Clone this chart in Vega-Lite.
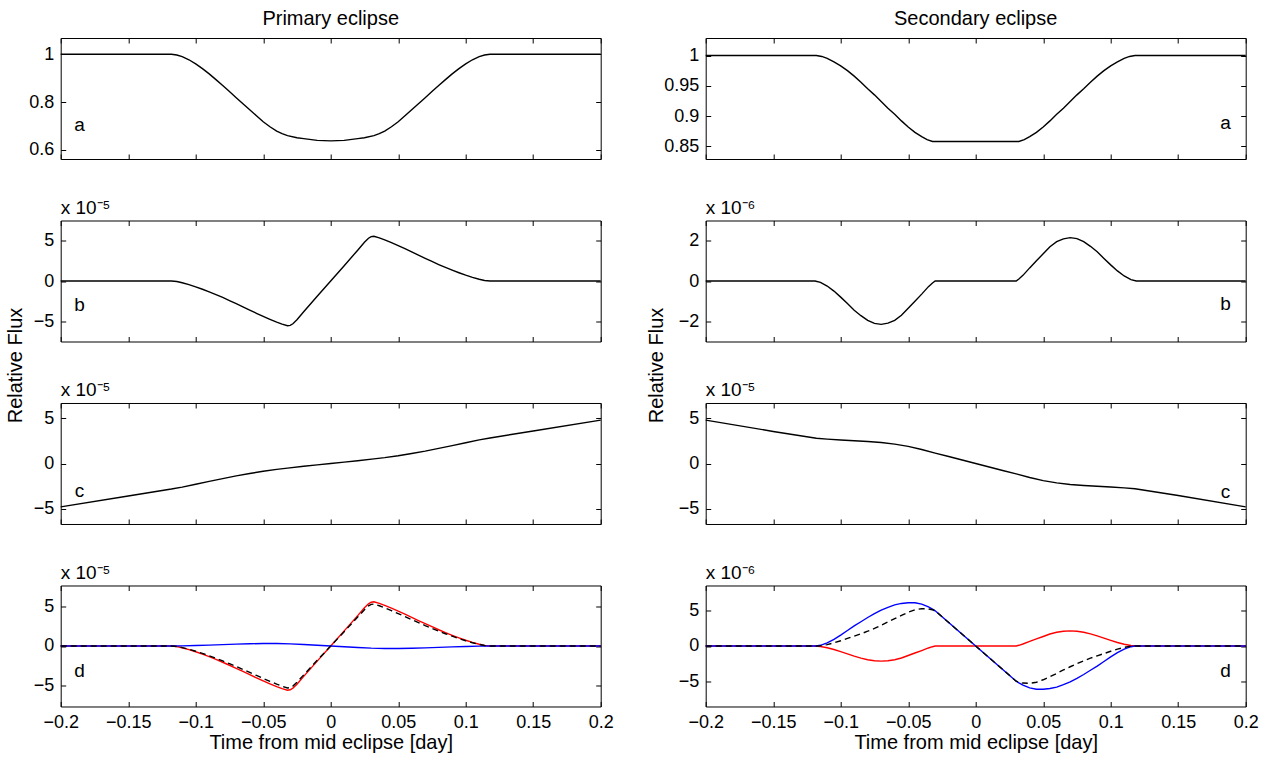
{
"$schema": "https://vega.github.io/schema/vega-lite/v6.json",
"background": "white",
"padding": {"left": 5.7, "top": 8, "right": 0, "bottom": 0},
"config": {
  "font": "Liberation Sans",
  "view": {"stroke": "black", "strokeWidth": 1},
  "axis": {"domain": false, "grid": false, "tickColor": "black", "tickSize": -5, "tickWidth": 1, "labelColor": "black", "labelFont": "Liberation Sans", "labelFontSize": 18, "labelPadding": 12, "labelFlush": false, "labelOverlap": false, "titleFont": "Liberation Sans", "titleFontSize": 20, "titleFontWeight": "normal", "titleColor": "black"},
  "title": {"font": "Liberation Sans", "fontWeight": "normal", "color": "black"},
  "text": {"font": "Liberation Sans", "color": "black", "fontSize": 19}
},
"datasets": {
  "La": [{"t":-0.2,"v":1},{"t":-0.15,"v":1},{"t":-0.118,"v":1},{"t":-0.114,"v":0.997},{"t":-0.11,"v":0.99},{"t":-0.105,"v":0.977},{"t":-0.1,"v":0.96},{"t":-0.095,"v":0.94},{"t":-0.09,"v":0.918},{"t":-0.085,"v":0.894},{"t":-0.08,"v":0.869},{"t":-0.075,"v":0.844},{"t":-0.07,"v":0.818},{"t":-0.065,"v":0.793},{"t":-0.06,"v":0.768},{"t":-0.055,"v":0.743},{"t":-0.05,"v":0.718},{"t":-0.045,"v":0.697},{"t":-0.04,"v":0.679},{"t":-0.036,"v":0.668},{"t":-0.032,"v":0.66},{"t":-0.025,"v":0.651},{"t":-0.02,"v":0.647},{"t":-0.01,"v":0.64},{"t":0,"v":0.638},{"t":0.01,"v":0.64},{"t":0.02,"v":0.647},{"t":0.025,"v":0.651},{"t":0.032,"v":0.66},{"t":0.036,"v":0.668},{"t":0.04,"v":0.679},{"t":0.045,"v":0.697},{"t":0.05,"v":0.718},{"t":0.055,"v":0.743},{"t":0.06,"v":0.768},{"t":0.065,"v":0.793},{"t":0.07,"v":0.818},{"t":0.075,"v":0.844},{"t":0.08,"v":0.869},{"t":0.085,"v":0.894},{"t":0.09,"v":0.918},{"t":0.095,"v":0.94},{"t":0.1,"v":0.96},{"t":0.105,"v":0.977},{"t":0.11,"v":0.99},{"t":0.114,"v":0.997},{"t":0.118,"v":1},{"t":0.15,"v":1},{"t":0.2,"v":1}],
  "Ra": [{"t":-0.2,"v":1},{"t":-0.15,"v":1},{"t":-0.118,"v":1},{"t":-0.114,"v":0.9985},{"t":-0.11,"v":0.9955},{"t":-0.105,"v":0.9895},{"t":-0.1,"v":0.983},{"t":-0.095,"v":0.975},{"t":-0.09,"v":0.966},{"t":-0.085,"v":0.956},{"t":-0.08,"v":0.945},{"t":-0.075,"v":0.935},{"t":-0.07,"v":0.924},{"t":-0.065,"v":0.913},{"t":-0.06,"v":0.903},{"t":-0.055,"v":0.892},{"t":-0.05,"v":0.882},{"t":-0.045,"v":0.873},{"t":-0.04,"v":0.866},{"t":-0.036,"v":0.861},{"t":-0.032,"v":0.858},{"t":0,"v":0.858},{"t":0.032,"v":0.858},{"t":0.036,"v":0.861},{"t":0.04,"v":0.866},{"t":0.045,"v":0.873},{"t":0.05,"v":0.882},{"t":0.055,"v":0.892},{"t":0.06,"v":0.903},{"t":0.065,"v":0.913},{"t":0.07,"v":0.924},{"t":0.075,"v":0.935},{"t":0.08,"v":0.945},{"t":0.085,"v":0.956},{"t":0.09,"v":0.966},{"t":0.095,"v":0.975},{"t":0.1,"v":0.983},{"t":0.105,"v":0.9895},{"t":0.11,"v":0.9955},{"t":0.114,"v":0.9985},{"t":0.118,"v":1},{"t":0.15,"v":1},{"t":0.2,"v":1}],
  "Lb": [{"t":-0.2,"v":0},{"t":-0.15,"v":0},{"t":-0.118,"v":0},{"t":-0.114,"v":-0.07},{"t":-0.11,"v":-0.22},{"t":-0.105,"v":-0.45},{"t":-0.1,"v":-0.72},{"t":-0.095,"v":-1.02},{"t":-0.09,"v":-1.34},{"t":-0.085,"v":-1.68},{"t":-0.08,"v":-2.04},{"t":-0.075,"v":-2.42},{"t":-0.07,"v":-2.8},{"t":-0.065,"v":-3.2},{"t":-0.06,"v":-3.6},{"t":-0.055,"v":-4.0},{"t":-0.05,"v":-4.38},{"t":-0.045,"v":-4.75},{"t":-0.04,"v":-5.1},{"t":-0.036,"v":-5.35},{"t":-0.032,"v":-5.55},{"t":-0.03,"v":-5.5},{"t":-0.028,"v":-5.3},{"t":-0.025,"v":-4.8},{"t":-0.02,"v":-3.82},{"t":-0.01,"v":-1.9},{"t":0,"v":0},{"t":0.01,"v":1.9},{"t":0.02,"v":3.82},{"t":0.025,"v":4.8},{"t":0.028,"v":5.3},{"t":0.03,"v":5.5},{"t":0.032,"v":5.55},{"t":0.036,"v":5.35},{"t":0.04,"v":5.1},{"t":0.045,"v":4.75},{"t":0.05,"v":4.38},{"t":0.055,"v":4.0},{"t":0.06,"v":3.6},{"t":0.065,"v":3.2},{"t":0.07,"v":2.8},{"t":0.075,"v":2.42},{"t":0.08,"v":2.04},{"t":0.085,"v":1.68},{"t":0.09,"v":1.34},{"t":0.095,"v":1.02},{"t":0.1,"v":0.72},{"t":0.105,"v":0.45},{"t":0.11,"v":0.22},{"t":0.114,"v":0.07},{"t":0.118,"v":0},{"t":0.15,"v":0},{"t":0.2,"v":0}],
  "Rb": [{"t":-0.2,"v":0},{"t":-0.15,"v":0},{"t":-0.119,"v":0},{"t":-0.115,"v":-0.07},{"t":-0.11,"v":-0.25},{"t":-0.105,"v":-0.5},{"t":-0.1,"v":-0.8},{"t":-0.095,"v":-1.12},{"t":-0.09,"v":-1.45},{"t":-0.085,"v":-1.72},{"t":-0.08,"v":-1.95},{"t":-0.075,"v":-2.1},{"t":-0.07,"v":-2.15},{"t":-0.065,"v":-2.09},{"t":-0.06,"v":-1.95},{"t":-0.055,"v":-1.7},{"t":-0.05,"v":-1.35},{"t":-0.045,"v":-1.0},{"t":-0.04,"v":-0.65},{"t":-0.035,"v":-0.28},{"t":-0.032,"v":-0.1},{"t":-0.03,"v":0},{"t":0.03,"v":0},{"t":0.032,"v":0.1},{"t":0.035,"v":0.28},{"t":0.04,"v":0.65},{"t":0.045,"v":1.0},{"t":0.05,"v":1.35},{"t":0.055,"v":1.7},{"t":0.06,"v":1.95},{"t":0.065,"v":2.09},{"t":0.07,"v":2.15},{"t":0.075,"v":2.1},{"t":0.08,"v":1.95},{"t":0.085,"v":1.72},{"t":0.09,"v":1.45},{"t":0.095,"v":1.12},{"t":0.1,"v":0.8},{"t":0.105,"v":0.5},{"t":0.11,"v":0.25},{"t":0.115,"v":0.07},{"t":0.119,"v":0},{"t":0.15,"v":0},{"t":0.2,"v":0}],
  "Lc": [{"t":-0.2,"v":-4.8},{"t":-0.15,"v":-3.6},{"t":-0.118,"v":-2.83},{"t":-0.11,"v":-2.61},{"t":-0.1,"v":-2.3},{"t":-0.09,"v":-1.98},{"t":-0.08,"v":-1.67},{"t":-0.07,"v":-1.37},{"t":-0.06,"v":-1.11},{"t":-0.05,"v":-0.86},{"t":-0.04,"v":-0.65},{"t":-0.032,"v":-0.51},{"t":-0.02,"v":-0.31},{"t":-0.01,"v":-0.15},{"t":0,"v":0},{"t":0.01,"v":0.15},{"t":0.02,"v":0.31},{"t":0.032,"v":0.51},{"t":0.04,"v":0.65},{"t":0.05,"v":0.86},{"t":0.06,"v":1.11},{"t":0.07,"v":1.37},{"t":0.08,"v":1.67},{"t":0.09,"v":1.98},{"t":0.1,"v":2.3},{"t":0.11,"v":2.61},{"t":0.118,"v":2.83},{"t":0.15,"v":3.6},{"t":0.2,"v":4.8}],
  "Rc": [{"t":-0.2,"v":4.8},{"t":-0.15,"v":3.55},{"t":-0.118,"v":2.8},{"t":-0.11,"v":2.7},{"t":-0.1,"v":2.6},{"t":-0.09,"v":2.52},{"t":-0.08,"v":2.43},{"t":-0.07,"v":2.32},{"t":-0.06,"v":2.15},{"t":-0.05,"v":1.9},{"t":-0.04,"v":1.55},{"t":-0.03,"v":1.15},{"t":-0.02,"v":0.77},{"t":-0.01,"v":0.39},{"t":0,"v":0},{"t":0.01,"v":-0.39},{"t":0.02,"v":-0.77},{"t":0.03,"v":-1.15},{"t":0.04,"v":-1.55},{"t":0.05,"v":-1.9},{"t":0.06,"v":-2.15},{"t":0.07,"v":-2.32},{"t":0.08,"v":-2.43},{"t":0.09,"v":-2.52},{"t":0.1,"v":-2.6},{"t":0.11,"v":-2.7},{"t":0.118,"v":-2.8},{"t":0.15,"v":-3.55},{"t":0.2,"v":-4.8}],
  "LdBlue": [{"t":-0.2,"v":0},{"t":-0.118,"v":0},{"t":-0.11,"v":0.02},{"t":-0.1,"v":0.06},{"t":-0.09,"v":0.11},{"t":-0.08,"v":0.17},{"t":-0.07,"v":0.23},{"t":-0.06,"v":0.28},{"t":-0.05,"v":0.31},{"t":-0.04,"v":0.31},{"t":-0.03,"v":0.27},{"t":-0.02,"v":0.19},{"t":-0.01,"v":0.1},{"t":0,"v":0},{"t":0.01,"v":-0.1},{"t":0.02,"v":-0.19},{"t":0.03,"v":-0.27},{"t":0.04,"v":-0.31},{"t":0.05,"v":-0.31},{"t":0.06,"v":-0.28},{"t":0.07,"v":-0.23},{"t":0.08,"v":-0.17},{"t":0.09,"v":-0.11},{"t":0.1,"v":-0.06},{"t":0.11,"v":-0.02},{"t":0.118,"v":0},{"t":0.2,"v":0}],
  "LdSum": [{"t":-0.2,"v":0},{"t":-0.15,"v":0},{"t":-0.118,"v":0},{"t":-0.114,"v":-0.06},{"t":-0.11,"v":-0.2},{"t":-0.105,"v":-0.41},{"t":-0.1,"v":-0.66},{"t":-0.095,"v":-0.935},{"t":-0.09,"v":-1.23},{"t":-0.085,"v":-1.54},{"t":-0.08,"v":-1.87},{"t":-0.075,"v":-2.22},{"t":-0.07,"v":-2.57},{"t":-0.065,"v":-2.945},{"t":-0.06,"v":-3.32},{"t":-0.055,"v":-3.7},{"t":-0.05,"v":-4.07},{"t":-0.045,"v":-4.435},{"t":-0.04,"v":-4.79},{"t":-0.036,"v":-5.055},{"t":-0.032,"v":-5.27},{"t":-0.03,"v":-5.23},{"t":-0.028,"v":-5.04},{"t":-0.025,"v":-4.56},{"t":-0.02,"v":-3.63},{"t":-0.01,"v":-1.8},{"t":0,"v":0},{"t":0.01,"v":1.8},{"t":0.02,"v":3.63},{"t":0.025,"v":4.56},{"t":0.028,"v":5.04},{"t":0.03,"v":5.23},{"t":0.032,"v":5.27},{"t":0.036,"v":5.055},{"t":0.04,"v":4.79},{"t":0.045,"v":4.435},{"t":0.05,"v":4.07},{"t":0.055,"v":3.7},{"t":0.06,"v":3.32},{"t":0.065,"v":2.945},{"t":0.07,"v":2.57},{"t":0.075,"v":2.22},{"t":0.08,"v":1.87},{"t":0.085,"v":1.54},{"t":0.09,"v":1.23},{"t":0.095,"v":0.935},{"t":0.1,"v":0.66},{"t":0.105,"v":0.41},{"t":0.11,"v":0.2},{"t":0.114,"v":0.06},{"t":0.118,"v":0},{"t":0.15,"v":0},{"t":0.2,"v":0}],
  "RdBlue": [{"t":-0.2,"v":0},{"t":-0.15,"v":0},{"t":-0.118,"v":0},{"t":-0.115,"v":0.1},{"t":-0.11,"v":0.45},{"t":-0.105,"v":0.95},{"t":-0.1,"v":1.55},{"t":-0.095,"v":2.2},{"t":-0.09,"v":2.85},{"t":-0.085,"v":3.45},{"t":-0.08,"v":4.05},{"t":-0.075,"v":4.6},{"t":-0.07,"v":5.1},{"t":-0.065,"v":5.5},{"t":-0.06,"v":5.85},{"t":-0.055,"v":6.05},{"t":-0.05,"v":6.15},{"t":-0.045,"v":6.15},{"t":-0.04,"v":5.95},{"t":-0.035,"v":5.55},{"t":-0.032,"v":5.25},{"t":-0.03,"v":5.0},{"t":-0.02,"v":3.33},{"t":-0.01,"v":1.67},{"t":0,"v":0},{"t":0.01,"v":-1.67},{"t":0.02,"v":-3.33},{"t":0.03,"v":-5.0},{"t":0.032,"v":-5.25},{"t":0.035,"v":-5.55},{"t":0.04,"v":-5.95},{"t":0.045,"v":-6.15},{"t":0.05,"v":-6.15},{"t":0.055,"v":-6.05},{"t":0.06,"v":-5.85},{"t":0.065,"v":-5.5},{"t":0.07,"v":-5.1},{"t":0.075,"v":-4.6},{"t":0.08,"v":-4.05},{"t":0.085,"v":-3.45},{"t":0.09,"v":-2.85},{"t":0.095,"v":-2.2},{"t":0.1,"v":-1.55},{"t":0.105,"v":-0.95},{"t":0.11,"v":-0.45},{"t":0.115,"v":-0.1},{"t":0.118,"v":0},{"t":0.15,"v":0},{"t":0.2,"v":0}],
  "RdSum": [{"t":-0.2,"v":0},{"t":-0.15,"v":0},{"t":-0.118,"v":0},{"t":-0.115,"v":0.03},{"t":-0.11,"v":0.2},{"t":-0.105,"v":0.45},{"t":-0.1,"v":0.75},{"t":-0.095,"v":1.08},{"t":-0.09,"v":1.4},{"t":-0.085,"v":1.73},{"t":-0.08,"v":2.1},{"t":-0.075,"v":2.5},{"t":-0.07,"v":2.95},{"t":-0.065,"v":3.41},{"t":-0.06,"v":3.9},{"t":-0.055,"v":4.35},{"t":-0.05,"v":4.8},{"t":-0.045,"v":5.15},{"t":-0.04,"v":5.3},{"t":-0.035,"v":5.27},{"t":-0.032,"v":5.15},{"t":-0.03,"v":5.0},{"t":-0.02,"v":3.33},{"t":-0.01,"v":1.67},{"t":0,"v":0},{"t":0.01,"v":-1.67},{"t":0.02,"v":-3.33},{"t":0.03,"v":-5.0},{"t":0.032,"v":-5.15},{"t":0.035,"v":-5.27},{"t":0.04,"v":-5.3},{"t":0.045,"v":-5.15},{"t":0.05,"v":-4.8},{"t":0.055,"v":-4.35},{"t":0.06,"v":-3.9},{"t":0.065,"v":-3.41},{"t":0.07,"v":-2.95},{"t":0.075,"v":-2.5},{"t":0.08,"v":-2.1},{"t":0.085,"v":-1.73},{"t":0.09,"v":-1.4},{"t":0.095,"v":-1.08},{"t":0.1,"v":-0.75},{"t":0.105,"v":-0.45},{"t":0.11,"v":-0.2},{"t":0.115,"v":-0.03},{"t":0.118,"v":0},{"t":0.15,"v":0},{"t":0.2,"v":0}]
},
"spacing": 32,
"hconcat": [
 {
  "title": {"text": "Relative Flux", "orient": "left", "anchor": "middle", "fontSize": 20, "offset": 2, "dx": 15},
  "spacing": 61.5,
  "bounds": "flush",
  "vconcat": [
   {
    "width": 540, "height": 121,
    "title": {"text": "Primary eclipse", "fontSize": 20, "anchor": "middle", "frame": "group", "offset": 9},
    "layer": [
     {"data": {"name": "La"}, "mark": {"type": "line", "color": "black", "strokeWidth": 1.4},
      "encoding": {
       "x": {"field": "t", "type": "quantitative", "scale": {"domain": [-0.2, 0.2], "nice": false, "zero": false}, "axis": {"orient": "bottom", "values": [-0.2,-0.15,-0.1,-0.05,0,0.05,0.1,0.15,0.2], "labels": false, "title": null}},
       "y": {"field": "v", "type": "quantitative", "scale": {"domain": [0.562, 1.068], "nice": false, "zero": false}, "axis": {"orient": "left", "values": [0.6, 0.8, 1], "format": "~g", "title": null}}}},
     {"data": {"name": "La"}, "mark": {"type": "line", "opacity": 0},
      "encoding": {
       "x": {"field": "t", "type": "quantitative", "scale": {"domain": [-0.2, 0.2], "nice": false, "zero": false}, "axis": {"orient": "top", "values": [-0.2,-0.15,-0.1,-0.05,0,0.05,0.1,0.15,0.2], "labels": false, "title": null}},
       "y": {"field": "v", "type": "quantitative", "scale": {"domain": [0.562, 1.068], "nice": false, "zero": false}, "axis": {"orient": "right", "values": [0.6, 0.8, 1], "labels": false, "title": null}}}},
     {"data": {"values": [{}]}, "mark": {"type": "text", "align": "center", "baseline": "middle"},
      "encoding": {
       "x": {"datum": -0.186, "scale": {"domain": [-0.2, 0.2], "nice": false, "zero": false}, "axis": null},
       "y": {"datum": 0.706, "scale": {"domain": [0.562, 1.068], "nice": false, "zero": false}, "axis": null},
       "text": {"value": "a"}}}
    ],
    "resolve": {"axis": {"x": "independent", "y": "independent"}}
   },
   {
    "width": 540, "height": 121,
    "title": {"text": "x 10⁻⁵", "fontSize": 19, "anchor": "start", "frame": "group", "offset": 2},
    "layer": [
     {"data": {"name": "Lb"}, "mark": {"type": "line", "color": "black", "strokeWidth": 1.4},
      "encoding": {
       "x": {"field": "t", "type": "quantitative", "scale": {"domain": [-0.2, 0.2], "nice": false, "zero": false}, "axis": {"orient": "bottom", "values": [-0.2,-0.15,-0.1,-0.05,0,0.05,0.1,0.15,0.2], "labels": false, "title": null}},
       "y": {"field": "v", "type": "quantitative", "scale": {"domain": [-7.5, 7.5], "nice": false, "zero": false}, "axis": {"orient": "left", "values": [-5, 0, 5], "format": "~g", "title": null}}}},
     {"data": {"name": "Lb"}, "mark": {"type": "line", "opacity": 0},
      "encoding": {
       "x": {"field": "t", "type": "quantitative", "scale": {"domain": [-0.2, 0.2], "nice": false, "zero": false}, "axis": {"orient": "top", "values": [-0.2,-0.15,-0.1,-0.05,0,0.05,0.1,0.15,0.2], "labels": false, "title": null}},
       "y": {"field": "v", "type": "quantitative", "scale": {"domain": [-7.5, 7.5], "nice": false, "zero": false}, "axis": {"orient": "right", "values": [-5, 0, 5], "labels": false, "title": null}}}},
     {"data": {"values": [{}]}, "mark": {"type": "text", "align": "center", "baseline": "middle"},
      "encoding": {
       "x": {"datum": -0.186, "scale": {"domain": [-0.2, 0.2], "nice": false, "zero": false}, "axis": null},
       "y": {"datum": -3.0, "scale": {"domain": [-7.5, 7.5], "nice": false, "zero": false}, "axis": null},
       "text": {"value": "b"}}}
    ],
    "resolve": {"axis": {"x": "independent", "y": "independent"}}
   },
   {
    "width": 540, "height": 121,
    "title": {"text": "x 10⁻⁵", "fontSize": 19, "anchor": "start", "frame": "group", "offset": 2},
    "layer": [
     {"data": {"name": "Lc"}, "mark": {"type": "line", "color": "black", "strokeWidth": 1.4},
      "encoding": {
       "x": {"field": "t", "type": "quantitative", "scale": {"domain": [-0.2, 0.2], "nice": false, "zero": false}, "axis": {"orient": "bottom", "values": [-0.2,-0.15,-0.1,-0.05,0,0.05,0.1,0.15,0.2], "labels": false, "title": null}},
       "y": {"field": "v", "type": "quantitative", "scale": {"domain": [-6.7, 6.7], "nice": false, "zero": false}, "axis": {"orient": "left", "values": [-5, 0, 5], "format": "~g", "title": null}}}},
     {"data": {"name": "Lc"}, "mark": {"type": "line", "opacity": 0},
      "encoding": {
       "x": {"field": "t", "type": "quantitative", "scale": {"domain": [-0.2, 0.2], "nice": false, "zero": false}, "axis": {"orient": "top", "values": [-0.2,-0.15,-0.1,-0.05,0,0.05,0.1,0.15,0.2], "labels": false, "title": null}},
       "y": {"field": "v", "type": "quantitative", "scale": {"domain": [-6.7, 6.7], "nice": false, "zero": false}, "axis": {"orient": "right", "values": [-5, 0, 5], "labels": false, "title": null}}}},
     {"data": {"values": [{}]}, "mark": {"type": "text", "align": "center", "baseline": "middle"},
      "encoding": {
       "x": {"datum": -0.186, "scale": {"domain": [-0.2, 0.2], "nice": false, "zero": false}, "axis": null},
       "y": {"datum": -3.0, "scale": {"domain": [-6.7, 6.7], "nice": false, "zero": false}, "axis": null},
       "text": {"value": "c"}}}
    ],
    "resolve": {"axis": {"x": "independent", "y": "independent"}}
   },
   {
    "width": 540, "height": 121,
    "title": {"text": "x 10⁻⁵", "fontSize": 19, "anchor": "start", "frame": "group", "offset": 2},
    "layer": [
     {"data": {"name": "Lb"}, "mark": {"type": "line", "color": "#ff0000", "strokeWidth": 1.4},
      "encoding": {
       "x": {"field": "t", "type": "quantitative", "scale": {"domain": [-0.2, 0.2], "nice": false, "zero": false}, "axis": {"orient": "bottom", "values": [-0.2,-0.15,-0.1,-0.05,0,0.05,0.1,0.15,0.2], "format": "~g", "title": "Time from mid eclipse [day]", "titlePadding": 1}},
       "y": {"field": "v", "type": "quantitative", "scale": {"domain": [-7.6, 7.6], "nice": false, "zero": false}, "axis": {"orient": "left", "values": [-5, 0, 5], "format": "~g", "title": null}}}},
     {"data": {"name": "LdBlue"}, "mark": {"type": "line", "color": "#0000ff", "strokeWidth": 1.4},
      "encoding": {
       "x": {"field": "t", "type": "quantitative", "scale": {"domain": [-0.2, 0.2], "nice": false, "zero": false}, "axis": null},
       "y": {"field": "v", "type": "quantitative", "scale": {"domain": [-7.6, 7.6], "nice": false, "zero": false}, "axis": null}}},
     {"data": {"name": "LdSum"}, "mark": {"type": "line", "color": "black", "strokeWidth": 1.4, "strokeDash": [6, 4]},
      "encoding": {
       "x": {"field": "t", "type": "quantitative", "scale": {"domain": [-0.2, 0.2], "nice": false, "zero": false}, "axis": null},
       "y": {"field": "v", "type": "quantitative", "scale": {"domain": [-7.6, 7.6], "nice": false, "zero": false}, "axis": null}}},
     {"data": {"name": "Lb"}, "mark": {"type": "line", "opacity": 0},
      "encoding": {
       "x": {"field": "t", "type": "quantitative", "scale": {"domain": [-0.2, 0.2], "nice": false, "zero": false}, "axis": {"orient": "top", "values": [-0.2,-0.15,-0.1,-0.05,0,0.05,0.1,0.15,0.2], "labels": false, "title": null}},
       "y": {"field": "v", "type": "quantitative", "scale": {"domain": [-7.6, 7.6], "nice": false, "zero": false}, "axis": {"orient": "right", "values": [-5, 0, 5], "labels": false, "title": null}}}},
     {"data": {"values": [{}]}, "mark": {"type": "text", "align": "center", "baseline": "middle"},
      "encoding": {
       "x": {"datum": -0.186, "scale": {"domain": [-0.2, 0.2], "nice": false, "zero": false}, "axis": null},
       "y": {"datum": -3.1, "scale": {"domain": [-7.6, 7.6], "nice": false, "zero": false}, "axis": null},
       "text": {"value": "d"}}}
    ],
    "resolve": {"axis": {"x": "independent", "y": "independent"}}
   }
  ]
 },
 {
  "title": {"text": "Relative Flux", "orient": "left", "anchor": "middle", "fontSize": 20, "offset": -4, "dx": 15},
  "spacing": 61.5,
  "bounds": "flush",
  "vconcat": [
   {
    "width": 540, "height": 121,
    "title": {"text": "Secondary eclipse", "fontSize": 20, "anchor": "middle", "frame": "group", "offset": 9},
    "layer": [
     {"data": {"name": "Ra"}, "mark": {"type": "line", "color": "black", "strokeWidth": 1.4},
      "encoding": {
       "x": {"field": "t", "type": "quantitative", "scale": {"domain": [-0.2, 0.2], "nice": false, "zero": false}, "axis": {"orient": "bottom", "values": [-0.2,-0.15,-0.1,-0.05,0,0.05,0.1,0.15,0.2], "labels": false, "title": null}},
       "y": {"field": "v", "type": "quantitative", "scale": {"domain": [0.829, 1.029], "nice": false, "zero": false}, "axis": {"orient": "left", "values": [0.85, 0.9, 0.95, 1], "format": "~g", "title": null}}}},
     {"data": {"name": "Ra"}, "mark": {"type": "line", "opacity": 0},
      "encoding": {
       "x": {"field": "t", "type": "quantitative", "scale": {"domain": [-0.2, 0.2], "nice": false, "zero": false}, "axis": {"orient": "top", "values": [-0.2,-0.15,-0.1,-0.05,0,0.05,0.1,0.15,0.2], "labels": false, "title": null}},
       "y": {"field": "v", "type": "quantitative", "scale": {"domain": [0.829, 1.029], "nice": false, "zero": false}, "axis": {"orient": "right", "values": [0.85, 0.9, 0.95, 1], "labels": false, "title": null}}}},
     {"data": {"values": [{}]}, "mark": {"type": "text", "align": "center", "baseline": "middle"},
      "encoding": {
       "x": {"datum": 0.185, "scale": {"domain": [-0.2, 0.2], "nice": false, "zero": false}, "axis": null},
       "y": {"datum": 0.888, "scale": {"domain": [0.829, 1.029], "nice": false, "zero": false}, "axis": null},
       "text": {"value": "a"}}}
    ],
    "resolve": {"axis": {"x": "independent", "y": "independent"}}
   },
   {
    "width": 540, "height": 121,
    "title": {"text": "x 10⁻⁶", "fontSize": 19, "anchor": "start", "frame": "group", "offset": 2},
    "layer": [
     {"data": {"name": "Rb"}, "mark": {"type": "line", "color": "black", "strokeWidth": 1.4},
      "encoding": {
       "x": {"field": "t", "type": "quantitative", "scale": {"domain": [-0.2, 0.2], "nice": false, "zero": false}, "axis": {"orient": "bottom", "values": [-0.2,-0.15,-0.1,-0.05,0,0.05,0.1,0.15,0.2], "labels": false, "title": null}},
       "y": {"field": "v", "type": "quantitative", "scale": {"domain": [-3, 3], "nice": false, "zero": false}, "axis": {"orient": "left", "values": [-2, 0, 2], "format": "~g", "title": null}}}},
     {"data": {"name": "Rb"}, "mark": {"type": "line", "opacity": 0},
      "encoding": {
       "x": {"field": "t", "type": "quantitative", "scale": {"domain": [-0.2, 0.2], "nice": false, "zero": false}, "axis": {"orient": "top", "values": [-0.2,-0.15,-0.1,-0.05,0,0.05,0.1,0.15,0.2], "labels": false, "title": null}},
       "y": {"field": "v", "type": "quantitative", "scale": {"domain": [-3, 3], "nice": false, "zero": false}, "axis": {"orient": "right", "values": [-2, 0, 2], "labels": false, "title": null}}}},
     {"data": {"values": [{}]}, "mark": {"type": "text", "align": "center", "baseline": "middle"},
      "encoding": {
       "x": {"datum": 0.185, "scale": {"domain": [-0.2, 0.2], "nice": false, "zero": false}, "axis": null},
       "y": {"datum": -1.15, "scale": {"domain": [-3, 3], "nice": false, "zero": false}, "axis": null},
       "text": {"value": "b"}}}
    ],
    "resolve": {"axis": {"x": "independent", "y": "independent"}}
   },
   {
    "width": 540, "height": 121,
    "title": {"text": "x 10⁻⁵", "fontSize": 19, "anchor": "start", "frame": "group", "offset": 2},
    "layer": [
     {"data": {"name": "Rc"}, "mark": {"type": "line", "color": "black", "strokeWidth": 1.4},
      "encoding": {
       "x": {"field": "t", "type": "quantitative", "scale": {"domain": [-0.2, 0.2], "nice": false, "zero": false}, "axis": {"orient": "bottom", "values": [-0.2,-0.15,-0.1,-0.05,0,0.05,0.1,0.15,0.2], "labels": false, "title": null}},
       "y": {"field": "v", "type": "quantitative", "scale": {"domain": [-6.7, 6.7], "nice": false, "zero": false}, "axis": {"orient": "left", "values": [-5, 0, 5], "format": "~g", "title": null}}}},
     {"data": {"name": "Rc"}, "mark": {"type": "line", "opacity": 0},
      "encoding": {
       "x": {"field": "t", "type": "quantitative", "scale": {"domain": [-0.2, 0.2], "nice": false, "zero": false}, "axis": {"orient": "top", "values": [-0.2,-0.15,-0.1,-0.05,0,0.05,0.1,0.15,0.2], "labels": false, "title": null}},
       "y": {"field": "v", "type": "quantitative", "scale": {"domain": [-6.7, 6.7], "nice": false, "zero": false}, "axis": {"orient": "right", "values": [-5, 0, 5], "labels": false, "title": null}}}},
     {"data": {"values": [{}]}, "mark": {"type": "text", "align": "center", "baseline": "middle"},
      "encoding": {
       "x": {"datum": 0.185, "scale": {"domain": [-0.2, 0.2], "nice": false, "zero": false}, "axis": null},
       "y": {"datum": -3.2, "scale": {"domain": [-6.7, 6.7], "nice": false, "zero": false}, "axis": null},
       "text": {"value": "c"}}}
    ],
    "resolve": {"axis": {"x": "independent", "y": "independent"}}
   },
   {
    "width": 540, "height": 121,
    "title": {"text": "x 10⁻⁶", "fontSize": 19, "anchor": "start", "frame": "group", "offset": 2},
    "layer": [
     {"data": {"name": "Rb"}, "mark": {"type": "line", "color": "#ff0000", "strokeWidth": 1.4},
      "encoding": {
       "x": {"field": "t", "type": "quantitative", "scale": {"domain": [-0.2, 0.2], "nice": false, "zero": false}, "axis": {"orient": "bottom", "values": [-0.2,-0.15,-0.1,-0.05,0,0.05,0.1,0.15,0.2], "format": "~g", "title": "Time from mid eclipse [day]", "titlePadding": 1}},
       "y": {"field": "v", "type": "quantitative", "scale": {"domain": [-8.6, 8.6], "nice": false, "zero": false}, "axis": {"orient": "left", "values": [-5, 0, 5], "format": "~g", "title": null}}}},
     {"data": {"name": "RdBlue"}, "mark": {"type": "line", "color": "#0000ff", "strokeWidth": 1.4},
      "encoding": {
       "x": {"field": "t", "type": "quantitative", "scale": {"domain": [-0.2, 0.2], "nice": false, "zero": false}, "axis": null},
       "y": {"field": "v", "type": "quantitative", "scale": {"domain": [-8.6, 8.6], "nice": false, "zero": false}, "axis": null}}},
     {"data": {"name": "RdSum"}, "mark": {"type": "line", "color": "black", "strokeWidth": 1.4, "strokeDash": [6, 4]},
      "encoding": {
       "x": {"field": "t", "type": "quantitative", "scale": {"domain": [-0.2, 0.2], "nice": false, "zero": false}, "axis": null},
       "y": {"field": "v", "type": "quantitative", "scale": {"domain": [-8.6, 8.6], "nice": false, "zero": false}, "axis": null}}},
     {"data": {"name": "Rb"}, "mark": {"type": "line", "opacity": 0},
      "encoding": {
       "x": {"field": "t", "type": "quantitative", "scale": {"domain": [-0.2, 0.2], "nice": false, "zero": false}, "axis": {"orient": "top", "values": [-0.2,-0.15,-0.1,-0.05,0,0.05,0.1,0.15,0.2], "labels": false, "title": null}},
       "y": {"field": "v", "type": "quantitative", "scale": {"domain": [-8.6, 8.6], "nice": false, "zero": false}, "axis": {"orient": "right", "values": [-5, 0, 5], "labels": false, "title": null}}}},
     {"data": {"values": [{}]}, "mark": {"type": "text", "align": "center", "baseline": "middle"},
      "encoding": {
       "x": {"datum": 0.185, "scale": {"domain": [-0.2, 0.2], "nice": false, "zero": false}, "axis": null},
       "y": {"datum": -3.6, "scale": {"domain": [-8.6, 8.6], "nice": false, "zero": false}, "axis": null},
       "text": {"value": "d"}}}
    ],
    "resolve": {"axis": {"x": "independent", "y": "independent"}}
   }
  ]
 }
]
}
